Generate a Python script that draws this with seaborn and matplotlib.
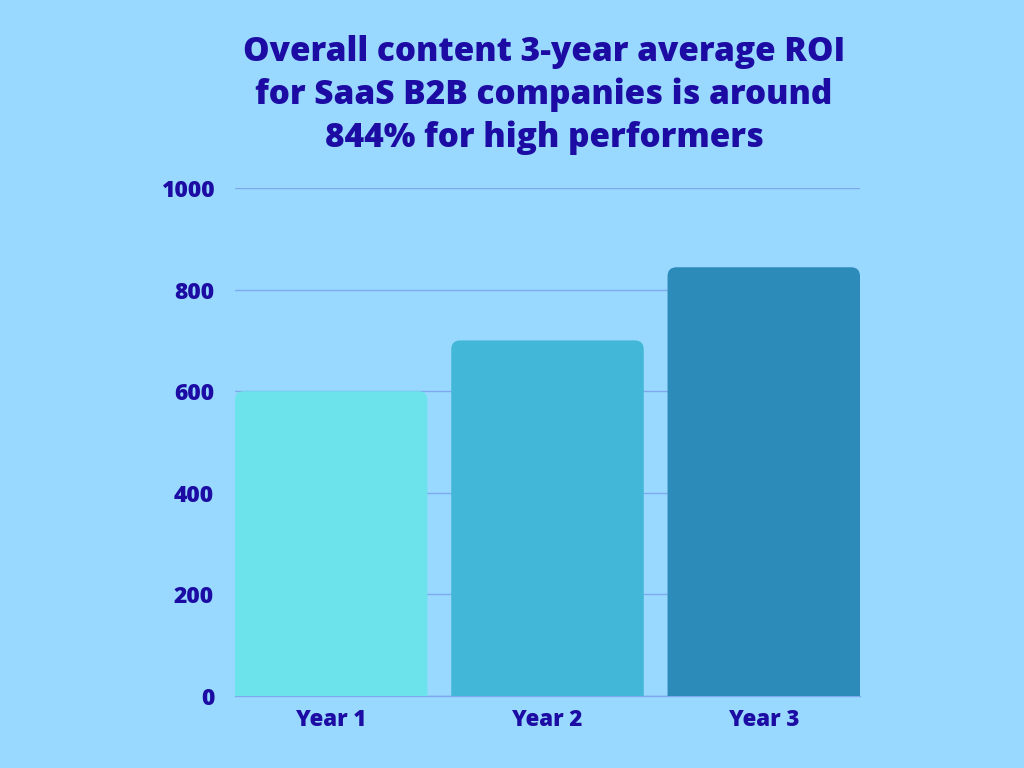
import matplotlib
matplotlib.use("Agg")
import matplotlib.pyplot as plt
import seaborn as sns
import pandas as pd
from matplotlib.patches import FancyBboxPatch

categories = ["Year 1", "Year 2", "Year 3"]
roi_values = [600, 700, 844]
bar_colors = ["#6ce3ea", "#43b7d7", "#2d8bba"]
y_ticks = [0, 200, 400, 600, 800, 1000]
title_text = "Overall content 3-year average ROI\nfor SaaS B2B companies is around\n844% for high performers"

bg = "#99d9ff"
text_color = "#1d0ca3"
grid_color = "#7fa9ec"

sns.set_theme(style="white")
plt.rcParams["font.family"] = ["Open Sans", "DejaVu Sans"]

df = pd.DataFrame({"year": categories, "roi": roi_values})

fig = plt.figure(figsize=(10.24, 7.68), dpi=100, facecolor=bg)
ax = fig.add_axes([235 / 1024, 1 - 696 / 768, 625 / 1024, 508 / 768])
ax.set_facecolor(bg)

sns.barplot(data=df, x="year", y="roi", hue="year", palette=bar_colors,
            width=0.89, legend=False, ax=ax, saturation=1, zorder=3)

ax.set_xlim(-0.445, 2.445)
ax.set_ylim(0, 1000)
ax.set_yticks(y_ticks)
ax.yaxis.grid(True, color=grid_color, linewidth=1, zorder=0)
ax.set_axisbelow(True)

# rounded top corners
px_x = (ax.get_xlim()[1] - ax.get_xlim()[0]) / 625
px_y = (ax.get_ylim()[1] - ax.get_ylim()[0]) / 508
r_px = 9
for p in list(ax.patches):
    x0, y0 = p.get_x(), p.get_y()
    w, h = p.get_width(), p.get_height()
    fc = p.get_facecolor()
    p.remove()
    ext = r_px * px_y * 2
    fp = FancyBboxPatch((x0, y0 - ext), w, h + ext,
                        boxstyle=f"round,pad=0,rounding_size={r_px * px_x}",
                        mutation_aspect=px_y / px_x,
                        facecolor=fc, edgecolor="none", zorder=3, clip_on=True)
    ax.add_patch(fp)

for s in ["top", "right", "left"]:
    ax.spines[s].set_visible(False)
ax.spines["bottom"].set_color(grid_color)
ax.spines["bottom"].set_linewidth(1)

ax.set_xlabel("")
ax.set_ylabel("")
ax.tick_params(axis="both", length=0, colors=text_color)
for lab in ax.get_yticklabels():
    lab.set_fontsize(16.5)
    lab.set_fontweight(800)
    lab.set_color(text_color)
for lab in ax.get_xticklabels():
    lab.set_fontsize(16)
    lab.set_fontweight(800)
    lab.set_color(text_color)
ax.tick_params(axis="y", pad=15)
ax.tick_params(axis="x", pad=9)

fig.text(544 / 1024, 1 - 95 / 768, title_text, ha="center", va="center",
         fontsize=24, fontweight=800, color=text_color, linespacing=1.32)

fig.savefig("out.png", dpi=100, facecolor=bg)
